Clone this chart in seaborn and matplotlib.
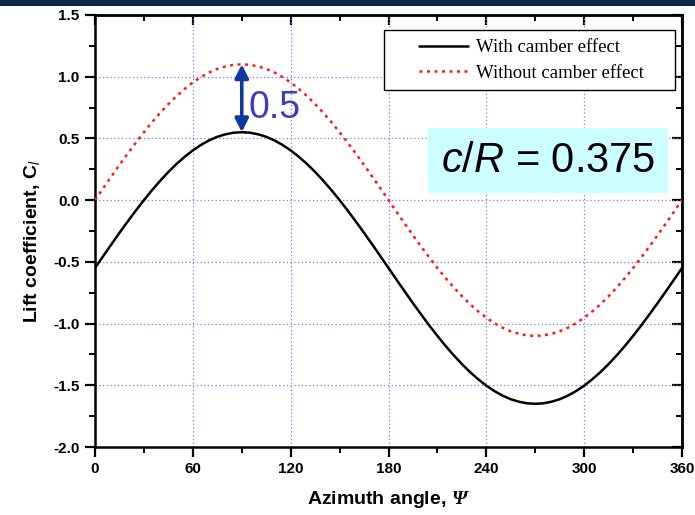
import numpy as np
import pandas as pd
import matplotlib
matplotlib.use("Agg")
import matplotlib.pyplot as plt
from matplotlib.patches import Rectangle
from matplotlib.ticker import MultipleLocator
import seaborn as sns

# Azimuth angle (deg) and lift coefficient for both cases
psi = list(range(0, 361, 5))
cl_camber = [-0.550, -0.454, -0.359, -0.265, -0.174, -0.085, 0.000, 0.081, 0.157, 0.228,
             0.293, 0.351, 0.403, 0.447, 0.484, 0.513, 0.533, 0.546, 0.550,
             0.546, 0.533, 0.513, 0.484, 0.447, 0.403, 0.351, 0.293, 0.228, 0.157, 0.081,
             0.000, -0.085, -0.174, -0.265, -0.359, -0.454, -0.550,
             -0.646, -0.741, -0.835, -0.926, -1.015, -1.100, -1.181, -1.257, -1.328,
             -1.393, -1.451, -1.503, -1.547, -1.584, -1.613, -1.633, -1.646, -1.650,
             -1.646, -1.633, -1.613, -1.584, -1.547, -1.503, -1.451, -1.393, -1.328,
             -1.257, -1.181, -1.100, -1.015, -0.926, -0.835, -0.741, -0.646, -0.550]
cl_no_camber = [0.000, 0.096, 0.191, 0.285, 0.376, 0.465, 0.550, 0.631, 0.707, 0.778,
                0.843, 0.901, 0.953, 0.997, 1.034, 1.063, 1.083, 1.096, 1.100,
                1.096, 1.083, 1.063, 1.034, 0.997, 0.953, 0.901, 0.843, 0.778, 0.707,
                0.631, 0.550, 0.465, 0.376, 0.285, 0.191, 0.096, 0.000,
                -0.096, -0.191, -0.285, -0.376, -0.465, -0.550, -0.631, -0.707, -0.778,
                -0.843, -0.901, -0.953, -0.997, -1.034, -1.063, -1.083, -1.096, -1.100,
                -1.096, -1.083, -1.063, -1.034, -0.997, -0.953, -0.901, -0.843, -0.778,
                -0.707, -0.631, -0.550, -0.465, -0.376, -0.285, -0.191, -0.096, 0.000]
series_names = ["With camber effect", "Without camber effect"]
x_ticks = [0, 60, 120, 180, 240, 300, 360]
y_ticks = [-2.0, -1.5, -1.0, -0.5, 0.0, 0.5, 1.0, 1.5]
peak_psi = 90
peak_low = 0.55
peak_high = 1.10
offset_label = "0.5"
ratio_value = "0.375"

df = pd.DataFrame({
    "psi": psi * 2,
    "cl": cl_camber + cl_no_camber,
    "case": [series_names[0]] * len(psi) + [series_names[1]] * len(psi),
})

sns.set_theme(style="white")
plt.rcParams["font.family"] = ["Liberation Sans", "DejaVu Sans"]
plt.rcParams["text.color"] = "black"
plt.rcParams["axes.labelcolor"] = "black"
plt.rcParams["xtick.color"] = "black"
plt.rcParams["ytick.color"] = "black"
plt.rcParams["mathtext.fontset"] = "custom"
plt.rcParams["mathtext.rm"] = "Liberation Sans:bold"
plt.rcParams["mathtext.it"] = "Liberation Sans:italic"
plt.rcParams["mathtext.bf"] = "Liberation Sans:bold"
plt.rcParams["mathtext.cal"] = "Liberation Serif:italic:bold"

RED = "#ff1a1a"
fig = plt.figure(figsize=(6.95, 5.15), dpi=100)
ax = fig.add_axes([0.1367, 0.132, 0.8446, 0.839])

# dark banner strip along the top edge
fig.patches.append(Rectangle((0, 0.988), 1, 0.012, transform=fig.transFigure,
                             facecolor="#0c2748", edgecolor="none", zorder=0))

sns.lineplot(data=df, x="psi", y="cl", hue="case", style="case",
             palette={series_names[0]: "black", series_names[1]: RED},
             dashes={series_names[0]: "", series_names[1]: (1.2, 1.8)},
             linewidth=1.8, ax=ax, legend=False, zorder=3)

ax.set_xlim(0, 360)
ax.set_ylim(-2.0, 1.5)
ax.set_xticks(x_ticks)
ax.set_yticks(y_ticks)
ax.set_yticklabels([f"{v:.1f}" for v in y_ticks])
ax.xaxis.set_minor_locator(MultipleLocator(30))
ax.yaxis.set_minor_locator(MultipleLocator(0.25))

# dotted grid at the interior major ticks
for xv in x_ticks[1:-1]:
    ax.axvline(xv, color="#7878ff", linestyle=(0, (1, 2)), linewidth=0.9, zorder=1)
for yv in y_ticks[1:-1]:
    ax.axhline(yv, color="#7878ff", linestyle=(0, (1, 2)), linewidth=0.9, zorder=1)

for s in ax.spines.values():
    s.set_visible(True)
    s.set_linewidth(1.8)
    s.set_color("black")

ax.tick_params(axis="both", which="both", bottom=True, left=True, top=False, right=False)
ax.tick_params(axis="both", which="major", direction="out", length=7, width=1.6,
               labelsize=11, colors="black", pad=4)
ax.tick_params(axis="both", which="minor", direction="out", length=4, width=1.4,
               colors="black")
for lab in ax.get_xticklabels() + ax.get_yticklabels():
    lab.set_fontweight("bold")

# mirrored inward ticks on top and right
axt = ax.secondary_xaxis("top")
axt.set_xticks(x_ticks)
axt.xaxis.set_minor_locator(MultipleLocator(30))
axt.tick_params(which="both", top=True, direction="in", labeltop=False, colors="black")
axt.tick_params(which="major", length=7, width=1.6)
axt.tick_params(which="minor", length=4, width=1.4)
axt.spines["top"].set_linewidth(1.8)
axr = ax.secondary_yaxis("right")
axr.set_yticks(y_ticks)
axr.yaxis.set_minor_locator(MultipleLocator(0.25))
axr.tick_params(which="both", right=True, direction="in", labelright=False, colors="black")
axr.tick_params(which="major", length=7, width=1.6)
axr.tick_params(which="minor", length=4, width=1.4)
axr.spines["right"].set_linewidth(1.8)

ax.set_xlabel(r"Azimuth angle, $\mathcal{Ψ}$", fontsize=14, fontweight="bold",
              labelpad=9, color="black")
ax.set_ylabel(r"Lift coefficient, C$_{\mathit{l}}$", fontsize=14, fontweight="bold",
              labelpad=8, color="black")
ax.yaxis.label.set_y(0.477)

# legend: Origin-style roomy frame drawn as a rectangle, entries placed inside
ax.add_patch(Rectangle((0.492, 0.826), 0.496, 0.139, transform=ax.transAxes,
                       facecolor="white", edgecolor="black", linewidth=1.0, zorder=6))
handles = [
    plt.Line2D([], [], color="black", linewidth=1.8),
    plt.Line2D([], [], color=RED, linewidth=1.8, linestyle=(0, (1.2, 1.8))),
]
leg = ax.legend(handles, series_names, loc="upper left", bbox_to_anchor=(0.552, 0.944),
                frameon=False, handlelength=2.6, handletextpad=0.45, borderpad=0,
                borderaxespad=0, labelspacing=0.45,
                prop={"family": "Liberation Serif", "size": 13.5})
for t in leg.get_texts():
    t.set_color("black")
leg.set_zorder(7)

# offset arrow between the two peaks
ax.annotate("", xy=(peak_psi, peak_low), xytext=(peak_psi, peak_high),
            arrowprops=dict(arrowstyle="<|-|>", color="#0a3a9c", linewidth=2.6,
                            mutation_scale=20, shrinkA=0, shrinkB=0), zorder=5)
ax.text(peak_psi + 4, 0.75, offset_label, color="#3c3cc8",
        fontsize=27, ha="left", va="center", zorder=5)

# chord-to-radius ratio box
ax.text(0.954, 0.662, rf"$\mathit{{c}}$/$\mathit{{R}}$ = {ratio_value}", transform=ax.transAxes,
        fontsize=30, ha="right", va="center", color="black",
        bbox=dict(boxstyle="square,pad=0.3", facecolor="#ccffff", edgecolor="none"),
        zorder=6)

fig.savefig("out.png", dpi=100)
